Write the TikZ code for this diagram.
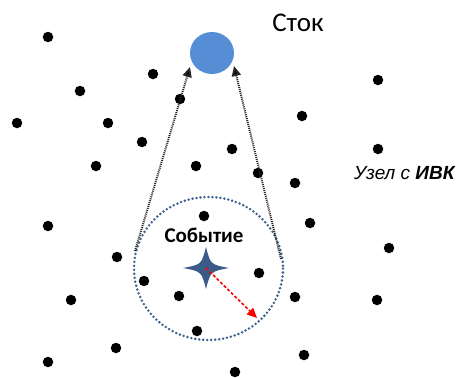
\documentclass[tikz,border=0pt]{standalone}
\usepackage{fontspec}
\setmainfont{Carlito}
\newfontfamily\nodefont{Liberation Sans}
\usetikzlibrary{arrows.meta,shapes.geometric}
\definecolor{sinkblue}{HTML}{558ED5}
\definecolor{ringblue}{HTML}{3F628F}
\definecolor{starblue}{HTML}{3A5A88}
\tikzset{
  dot/.style={circle,fill=black,inner sep=0pt,minimum size=10.5pt},
  sinkstyle/.style={ellipse,fill=sinkblue,inner sep=0pt,minimum width=44pt,minimum height=42pt},
  uparrow/.style={black!85,line width=2pt,dash pattern=on 1pt off 1pt,-{Triangle[length=10pt,width=9pt,fill=black]}},
  radarrow/.style={red,line width=1.6pt,dash pattern=on 3pt off 2pt,-{Triangle[length=10pt,width=9pt]}},
  ring/.style={ringblue,line width=2.8pt,line cap=round,dash pattern=on 0pt off 4pt},
  lbl/.style={inner sep=0pt}
}
\begin{document}
\begin{tikzpicture}[x=1pt,y=-1pt]
\useasboundingbox (0,0) rectangle (472,378);
% ring
\draw[ring] (208.5,268.5) ellipse [x radius=74.5,y radius=71.5];
% dots
\foreach \i/\x/\y in {1/48/37,2/153/74,3/80/91,4/180/99,5/378/80,6/17/123,7/108/123,8/302/116,9/142/142,10/232/149,11/378/149,12/96/166,13/196/166,14/258/173,15/295/183,16/204/216,17/48/226,18/310/223,19/389/248,20/117/257,21/259/273,22/144/281,23/179/296,24/295/297,25/71/300,26/377/300,27/197/331,28/116/348,29/304/355,30/48/362,31/235/372}
  \node[dot] (n\i) at (\x,\y) {};
% sink
\node[sinkstyle] (sink) at (212,53) {};
\node[lbl,font=\fontsize{27}{30}\selectfont] (stok) at (298,23) {Сток};
% event star
\coordinate (star) at (206,268);
\fill[starblue] (229,268) .. controls (210.5,264.5) .. (206,247)
  .. controls (201.5,264.5) .. (183,268)
  .. controls (201.5,271.5) .. (206,289)
  .. controls (210.5,271.5) .. cycle;
\node[lbl,font=\bfseries\fontsize{21}{24}\selectfont] (event) at (204,235) {Событие};
\node[lbl,anchor=west,font=\nodefont\itshape\fontsize{19}{22}\selectfont] (ivk) at (354,173) {Узел с \textbf{ИВК}};
% arrows
\coordinate (ls) at (135,251);
\coordinate (lt) at (190,67);
\coordinate (rs) at (281,259);
\coordinate (rtop) at (234,66);
\coordinate (rad) at (257,318);
\draw[uparrow] (ls) -- (lt);
\draw[uparrow] (rs) -- (rtop);
\draw[radarrow] (star) -- (rad);
\end{tikzpicture}
\end{document}
